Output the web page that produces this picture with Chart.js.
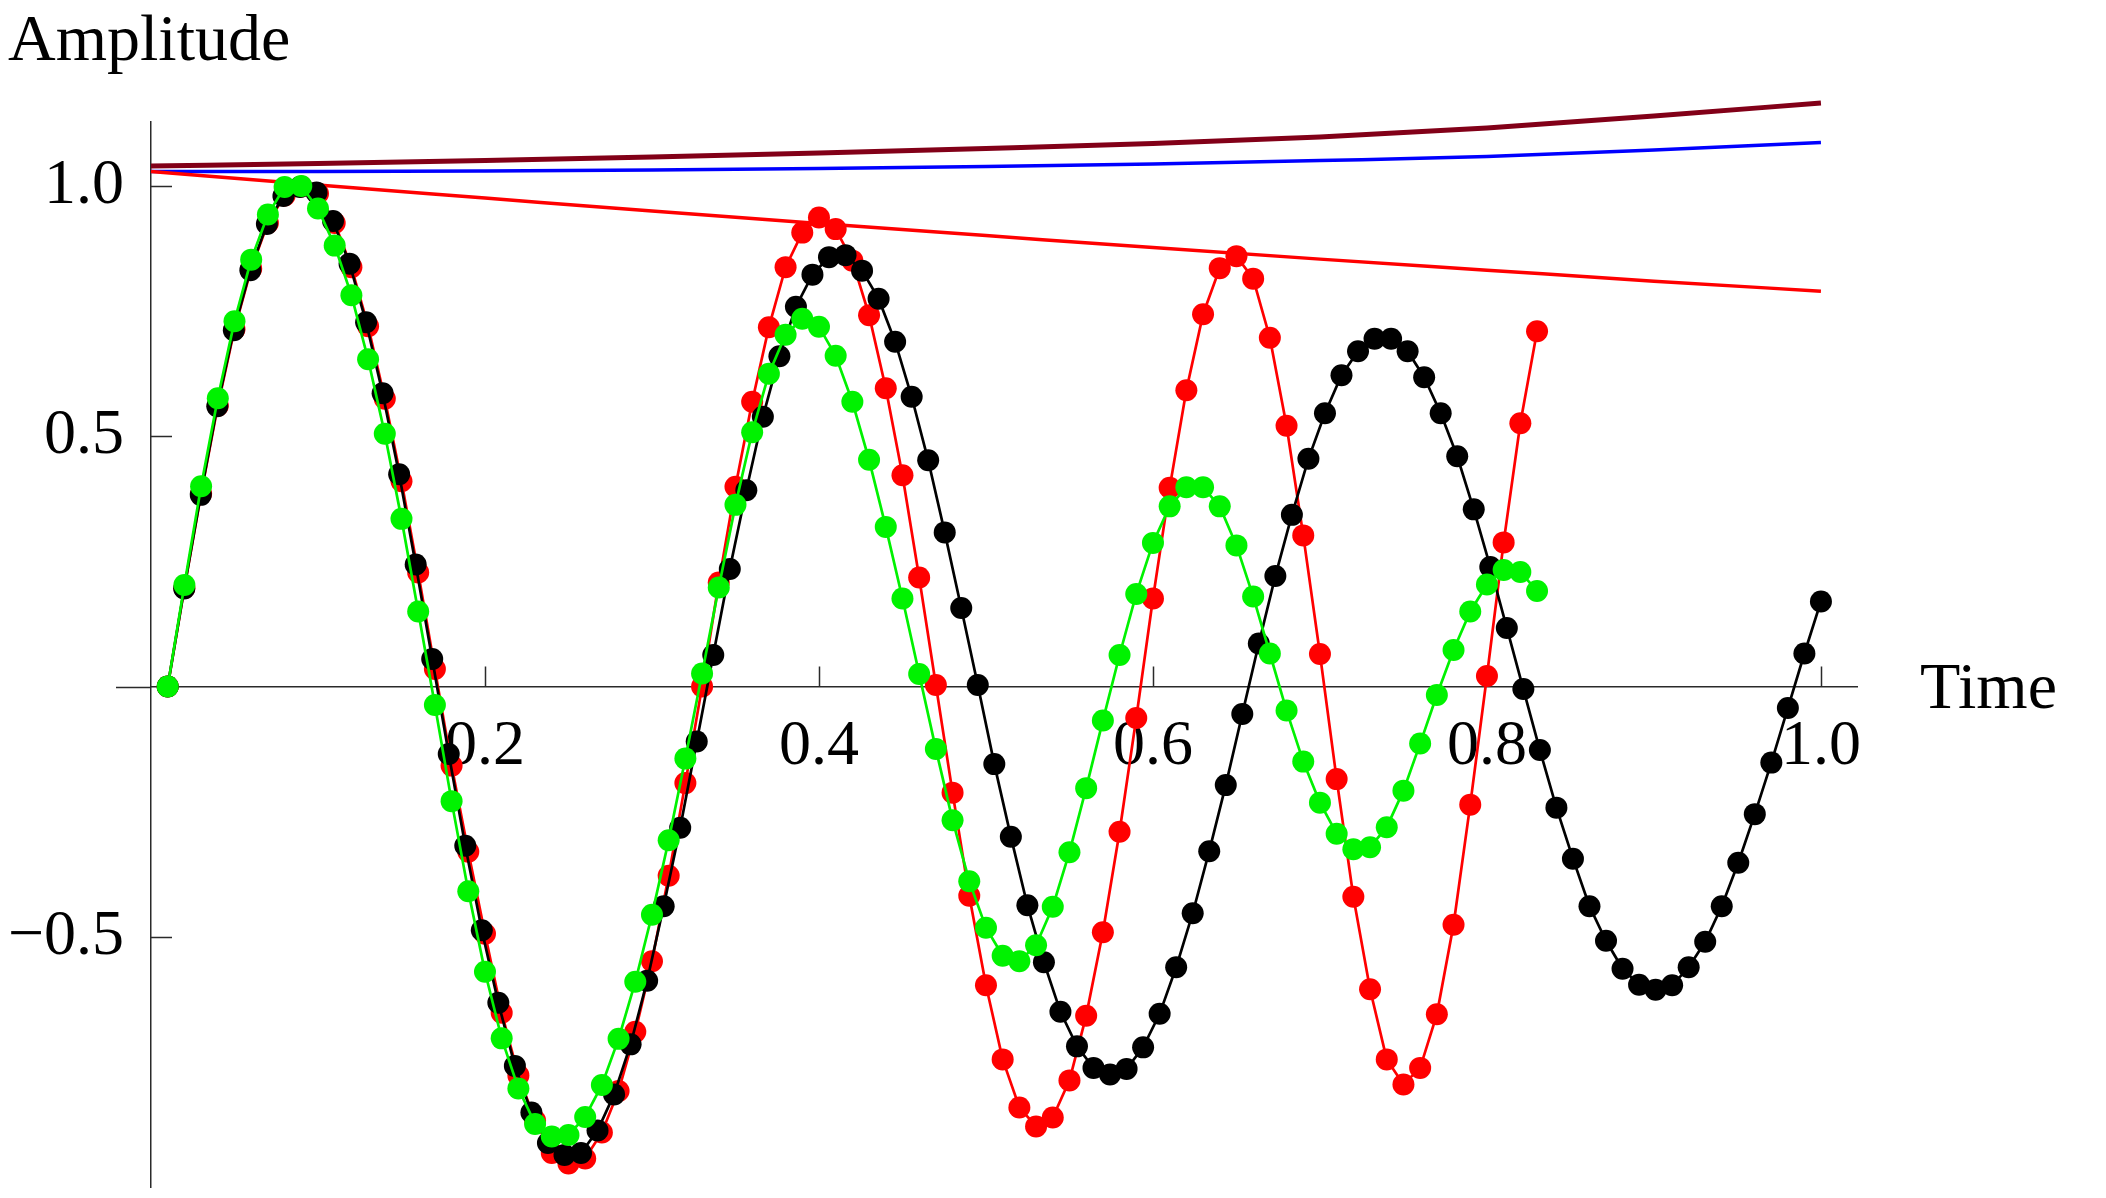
<!DOCTYPE html>
<html>
<head>
<meta charset="utf-8">
<script src="https://cdn.jsdelivr.net/npm/chart.js@4.4.1/dist/chart.umd.min.js"></script>
<style>
  html, body { margin: 0; padding: 0; background: #ffffff; }
  #wrap { width: 2106px; height: 1198px; }
  canvas { display: block; }
</style>
</head>
<body>
<div id="wrap"><canvas id="chart" width="2106" height="1198"></canvas></div>
<script>
// ---------- DATA ----------
// sample times of the black series
const blackT = [0.01,0.0199,0.0298,0.0397,0.0496,0.0595,0.0694,0.0793,0.0892,0.0991,
  0.109,0.1189,0.1288,0.1387,0.1486,0.1585,0.1684,0.1783,0.1882,0.1981,
  0.208,0.2179,0.2278,0.2377,0.2476,0.2575,0.2674,0.2773,0.2872,0.2971,
  0.307,0.3169,0.3268,0.3367,0.3466,0.3565,0.3664,0.3763,0.3862,0.3961,
  0.406,0.4159,0.4258,0.4357,0.4456,0.4555,0.4654,0.4753,0.4852,0.4951,
  0.505,0.5149,0.5248,0.5347,0.5446,0.5545,0.5644,0.5743,0.5842,0.5941,
  0.604,0.6139,0.6238,0.6337,0.6436,0.6535,0.6634,0.6733,0.6832,0.6931,
  0.703,0.7129,0.7228,0.7327,0.7426,0.7525,0.7624,0.7723,0.7822,0.7921,
  0.802,0.8119,0.8218,0.8317,0.8416,0.8515,0.8614,0.8713,0.8812,0.8911,
  0.901,0.9109,0.9208,0.9307,0.9406,0.9505,0.9604,0.9703,0.9802,0.9901,1.0];
const blackY = [0,0.196,0.383,0.56,0.712,0.832,0.924,0.98,0.998,0.987,
  0.93,0.845,0.728,0.586,0.424,0.244,0.055,-0.135,-0.318,-0.487,
  -0.632,-0.758,-0.851,-0.912,-0.936,-0.932,-0.887,-0.815,-0.715,-0.588,
  -0.439,-0.282,-0.11,0.063,0.235,0.392,0.539,0.66,0.759,0.823,
  0.858,0.862,0.831,0.775,0.689,0.579,0.452,0.308,0.157,0.003,
  -0.155,-0.3,-0.437,-0.551,-0.65,-0.719,-0.762,-0.775,-0.764,-0.721,
  -0.654,-0.561,-0.453,-0.329,-0.197,-0.055,0.086,0.221,0.343,0.455,
  0.546,0.622,0.67,0.695,0.695,0.67,0.618,0.546,0.46,0.354,
  0.239,0.117,-0.005,-0.127,-0.242,-0.344,-0.439,-0.508,-0.564,-0.596,
  -0.606,-0.597,-0.561,-0.51,-0.439,-0.352,-0.255,-0.152,-0.043,0.066,0.17];

// sample times of the red and green series
const rgT = [0.01,0.02,0.03,0.04,0.05,0.06,0.07,0.08,0.09,0.10,
  0.11,0.12,0.13,0.14,0.15,0.16,0.17,0.18,0.19,0.20,
  0.21,0.22,0.23,0.24,0.25,0.26,0.27,0.28,0.29,0.30,
  0.31,0.32,0.33,0.34,0.35,0.36,0.37,0.38,0.39,0.40,
  0.41,0.42,0.43,0.44,0.45,0.46,0.47,0.48,0.49,0.50,
  0.51,0.52,0.53,0.54,0.55,0.56,0.57,0.58,0.59,0.60,
  0.61,0.62,0.63,0.64,0.65,0.66,0.67,0.68,0.69,0.70,
  0.71,0.72,0.73,0.74,0.75,0.76,0.77,0.78,0.79,0.80,
  0.81,0.82,0.83];
const redY = [0,0.197,0.385,0.561,0.714,0.835,0.926,0.981,0.999,0.985,
  0.926,0.838,0.72,0.575,0.41,0.228,0.035,-0.158,-0.33,-0.494,
  -0.652,-0.777,-0.867,-0.932,-0.953,-0.943,-0.891,-0.808,-0.69,-0.549,
  -0.378,-0.193,0.0,0.208,0.399,0.569,0.718,0.838,0.907,0.937,
  0.914,0.851,0.742,0.596,0.422,0.218,0.003,-0.212,-0.418,-0.597,
  -0.745,-0.841,-0.879,-0.861,-0.787,-0.658,-0.491,-0.29,-0.063,0.176,
  0.397,0.592,0.744,0.836,0.86,0.815,0.697,0.521,0.302,0.065,
  -0.185,-0.42,-0.605,-0.745,-0.795,-0.762,-0.655,-0.476,-0.236,0.021,
  0.288,0.526,0.71];
const greenY = [0,0.203,0.40,0.576,0.73,0.853,0.943,0.998,1.0,0.955,
  0.881,0.782,0.654,0.505,0.335,0.15,-0.037,-0.229,-0.409,-0.57,
  -0.703,-0.803,-0.874,-0.899,-0.896,-0.86,-0.796,-0.704,-0.59,-0.456,
  -0.307,-0.144,0.026,0.198,0.363,0.508,0.625,0.703,0.735,0.719,
  0.661,0.569,0.453,0.319,0.176,0.025,-0.125,-0.267,-0.389,-0.482,
  -0.538,-0.549,-0.517,-0.44,-0.331,-0.203,-0.068,0.063,0.185,0.287,
  0.36,0.398,0.398,0.36,0.282,0.18,0.066,-0.048,-0.15,-0.232,
  -0.294,-0.325,-0.321,-0.281,-0.208,-0.114,-0.017,0.073,0.15,0.204,
  0.233,0.229,0.191];

// envelope curves
const envT = [0,0.1,0.2,0.3,0.4,0.5,0.6,0.7,0.8,0.9,1.0];
const maroonY = [1.040,1.045,1.051,1.058,1.066,1.075,1.085,1.098,1.116,1.140,1.166];
const blueY = [1.029,1.029,1.030,1.032,1.035,1.039,1.044,1.051,1.059,1.072,1.087];
const redLineY = [1.029,1.002,0.976,0.950,0.925,0.901,0.877,0.854,0.832,0.810,0.790];

// axes ticks and labels
const xTickValues = [0.05,0.1,0.15,0.2,0.25,0.3,0.35,0.4,0.45,0.5,0.55,0.6,0.65,0.7,0.75,0.8,0.85,0.9,0.95,1.0];
const xLabelValues = [0.2,0.4,0.6,0.8,1.0];
const xTickLabels = ['0.2','0.4','0.6','0.8','1.0'];
const yTickValues = [-1.0,-0.9,-0.8,-0.7,-0.6,-0.5,-0.4,-0.3,-0.2,-0.1,0.1,0.2,0.3,0.4,0.5,0.6,0.7,0.8,0.9,1.0,1.1];
const yLabelValues = [1.0,0.5,-0.5];
const yTickLabels = ['1.0','0.5','\u22120.5'];
const yMajorValues = [1.0,0.5,-0.5,-1.0];
const xAxisTitle = 'Time';
const yAxisTitle = 'Amplitude';

// ---------- STYLE ----------
const FONT = '"Liberation Serif", "Times New Roman", Times, serif';
const axisColor = '#2a2a2a';
const GREEN = '#00f200';

function pts(ts, ys) { return ts.map((t, i) => ({x: t, y: ys[i]})); }
function findLabel(v, vals, labels) {
  for (let i = 0; i < vals.length; i++) if (Math.abs(v - vals[i]) < 1e-9) return labels[i];
  return null;
}
function isIn(v, vals) { return vals.some(a => Math.abs(a - v) < 1e-9); }
function noPad(s) { s.paddingTop = 0; s.paddingBottom = 0; s.paddingLeft = 0; s.paddingRight = 0; }

const axisDecor = {
  id: 'axisDecor',
  beforeDatasetsDraw(chart) {
    const {ctx, scales: {x, y}} = chart;
    const ax = x.getPixelForValue(0);
    const ay = y.getPixelForValue(0);
    ctx.save();
    ctx.strokeStyle = axisColor;
    ctx.lineWidth = 1.5;
    ctx.beginPath();
    // short stretch of the time axis left of the amplitude axis
    ctx.moveTo(ax - 35, Math.round(ay) + 0.5); ctx.lineTo(ax, Math.round(ay) + 0.5);
    x.ticks.forEach(t => {
      const px = Math.round(x.getPixelForValue(t.value)) + 0.5;
      const len = isIn(t.value, xLabelValues) ? 20 : 12;
      ctx.moveTo(px, ay); ctx.lineTo(px, ay - len);
    });
    y.ticks.forEach(t => {
      const py = Math.round(y.getPixelForValue(t.value)) + 0.5;
      const len = isIn(t.value, yMajorValues) ? 21 : 12;
      ctx.moveTo(ax, py); ctx.lineTo(ax + len, py);
    });
    ctx.stroke();
    ctx.fillStyle = '#000';
    ctx.font = '66px ' + FONT;
    ctx.textBaseline = 'alphabetic';
    ctx.textAlign = 'left';
    ctx.fillText(yAxisTitle, ax - 143, chart.chartArea.top - 62);
    ctx.fillText(xAxisTitle, x.right + 63, ay + 21);
    ctx.restore();
  }
};

new Chart(document.getElementById('chart'), {
  type: 'line',
  data: {
    datasets: [
      { data: pts(rgT, greenY), borderColor: GREEN, backgroundColor: GREEN, borderWidth: 2.7,
        pointRadius: 11, pointBorderWidth: 0, pointBackgroundColor: GREEN, clip: false },
      { data: pts(blackT, blackY), borderColor: '#000000', backgroundColor: '#000000', borderWidth: 2.7,
        pointRadius: 11, pointBorderWidth: 0, pointBackgroundColor: '#000000', clip: false },
      { data: pts(rgT, redY), borderColor: '#ff0000', backgroundColor: '#ff0000', borderWidth: 2.7,
        pointRadius: 11, pointBorderWidth: 0, pointBackgroundColor: '#ff0000', clip: false },
      { data: pts(envT, redLineY), borderColor: '#ff0000', borderWidth: 3.5, pointRadius: 0,
        cubicInterpolationMode: 'monotone', clip: false },
      { data: pts(envT, blueY), borderColor: '#0000ff', borderWidth: 3.5, pointRadius: 0,
        cubicInterpolationMode: 'monotone', clip: false },
      { data: pts(envT, maroonY), borderColor: '#820018', borderWidth: 5, pointRadius: 0,
        cubicInterpolationMode: 'monotone', clip: false }
    ]
  },
  options: {
    responsive: false,
    animation: false,
    devicePixelRatio: 1,
    events: [],
    layout: { padding: { left: 4, right: 249, top: 122, bottom: 1 } },
    plugins: { legend: { display: false }, tooltip: { enabled: false } },
    scales: {
      x: {
        type: 'linear', min: 0, max: 1.0216, position: { y: 0 },
        afterBuildTicks: s => { s.ticks = xTickValues.map(v => ({ value: v })); },
        afterFit: s => { noPad(s); },
        ticks: { autoSkip: false, maxRotation: 0, padding: 29, color: '#000',
          font: { family: FONT, size: 64, lineHeight: 1 },
          callback: v => findLabel(v, xLabelValues, xTickLabels) },
        grid: { display: true, drawOnChartArea: false, drawTicks: false },
        border: { display: true, color: axisColor, width: 1.5 }
      },
      y: {
        type: 'linear', min: -1.0, max: 1.128, position: 'left',
        afterBuildTicks: s => { s.ticks = yTickValues.map(v => ({ value: v })); },
        afterFit: s => { s.width = 147; noPad(s); },
        ticks: { autoSkip: false, padding: 27, color: '#000',
          font: { family: FONT, size: 64, lineHeight: 1 },
          callback: v => findLabel(v, yLabelValues, yTickLabels) },
        grid: { display: true, drawOnChartArea: false, drawTicks: false },
        border: { display: true, color: axisColor, width: 1.5 }
      }
    }
  },
  plugins: [axisDecor]
});
</script>
</body>
</html>
